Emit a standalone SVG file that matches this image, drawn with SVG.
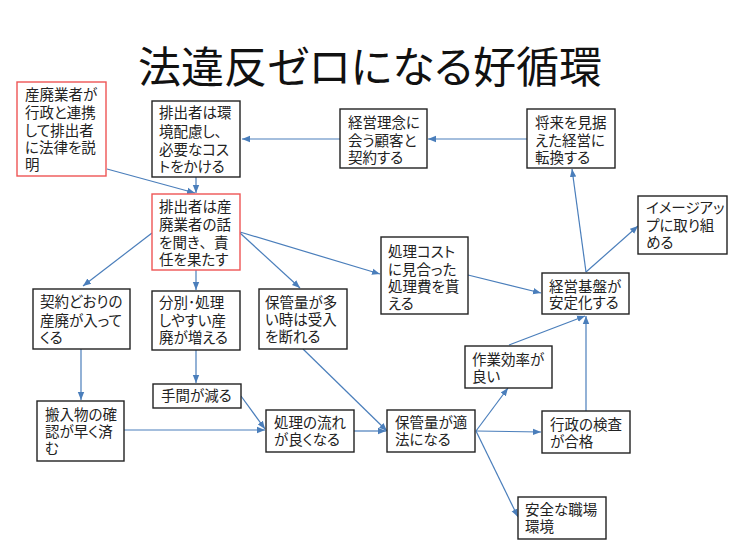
<svg xmlns="http://www.w3.org/2000/svg" width="740" height="555" viewBox="0 0 740 555">
<style>
.n rect{fill:#fff;stroke:#222;stroke-width:1.4}
.n.r rect{stroke:#EE5555}
text{font-family:"Liberation Sans","Noto Sans CJK JP",sans-serif;font-size:14.5px;fill:#222;font-feature-settings:"palt"}
.f{font-feature-settings:normal}
.t{font-size:43px;fill:#111}
.c line{stroke:#4A7EBB;stroke-width:1.2;marker-end:url(#a)}
</style>
<defs>
<marker id="a" viewBox="0 0 8 8" refX="8" refY="4" markerWidth="8" markerHeight="8" markerUnits="userSpaceOnUse" orient="auto">
<path d="M0,0.8 L8,4 L0,7.2 Z" fill="#4A7EBB"/>
</marker>
</defs>
<rect width="740" height="555" fill="#fff"/>
<text class="t" x="370" y="83" text-anchor="middle">法違反ゼロになる好循環</text>
<g class="c">
<line x1="107" y1="169" x2="195" y2="193"/>
<line x1="196" y1="177" x2="196" y2="193"/>
<line x1="340" y1="139" x2="242" y2="139"/>
<line x1="527" y1="139" x2="428" y2="139"/>
<line x1="586" y1="272" x2="572" y2="169"/>
<line x1="586" y1="272" x2="638" y2="226"/>
<line x1="152" y1="233" x2="83" y2="286"/>
<line x1="196" y1="270" x2="196" y2="290"/>
<line x1="240" y1="233" x2="300" y2="288"/>
<line x1="240" y1="232" x2="380" y2="274"/>
<line x1="468" y1="275" x2="541" y2="293"/>
<line x1="81" y1="349" x2="81" y2="400"/>
<line x1="196" y1="350" x2="196" y2="383"/>
<line x1="124" y1="430" x2="265" y2="430"/>
<line x1="241" y1="396" x2="265" y2="429"/>
<line x1="303" y1="349" x2="387" y2="431"/>
<line x1="354" y1="431" x2="386" y2="431"/>
<line x1="476" y1="431" x2="508" y2="388"/>
<line x1="476" y1="431" x2="541" y2="432"/>
<line x1="476" y1="431" x2="518" y2="517"/>
<line x1="509" y1="345" x2="585" y2="316"/>
<line x1="586" y1="411" x2="586" y2="316"/>
</g>
<g id="n1" class="n r"><rect x="17" y="82" width="89" height="94"/><text><tspan x="25" y="100">産廃業者が</tspan><tspan x="25" y="118">行政と連携</tspan><tspan x="25" y="136">して排出者</tspan><tspan x="25" y="153">に法律を説</tspan><tspan x="25" y="170">明</tspan></text></g>
<g id="n2" class="n"><rect x="152" y="101" width="88" height="76"/><text><tspan x="159" y="118">排出者は環</tspan><tspan x="159" y="137">境配慮し、</tspan><tspan x="159" y="155">必要なコス</tspan><tspan x="159" y="172">トをかける</tspan></text></g>
<g id="n3" class="n r"><rect x="152" y="194" width="88" height="76"/><text><tspan x="159" y="212">排出者は産</tspan><tspan x="159" y="230">廃業者の話</tspan><tspan x="159" y="248">を聞き<tspan class="f">、</tspan>責</tspan><tspan x="159" y="265">任を果たす</tspan></text></g>
<g id="n4" class="n"><rect x="340" y="109" width="87" height="59"/><text><tspan x="348" y="128">経営理念に</tspan><tspan x="348" y="146">会う顧客と</tspan><tspan x="348" y="163">契約する</tspan></text></g>
<g id="n5" class="n"><rect x="527" y="109" width="88" height="59"/><text><tspan x="535" y="128">将来を見据</tspan><tspan x="535" y="146">えた経営に</tspan><tspan x="535" y="163">転換する</tspan></text></g>
<g id="n6" class="n"><rect x="638" y="196" width="89" height="58"/><text><tspan x="646" y="213">イメージアッ</tspan><tspan x="646" y="231">プに取り組</tspan><tspan x="646" y="248">める</tspan></text></g>
<g id="n7" class="n"><rect x="33" y="289" width="97" height="60"/><text><tspan x="40" y="307">契約どおりの</tspan><tspan x="40" y="326">産廃が入って</tspan><tspan x="40" y="343">くる</tspan></text></g>
<g id="n8" class="n"><rect x="152" y="291" width="88" height="59"/><text><tspan x="159" y="308">分別･処理</tspan><tspan x="159" y="326">しやすい産</tspan><tspan x="159" y="343">廃が増える</tspan></text></g>
<g id="n9" class="n"><rect x="153" y="384" width="88" height="24"/><text x="161" y="401">手間が減る</text></g>
<g id="n10" class="n"><rect x="37" y="401" width="87" height="60"/><text><tspan x="45" y="420">搬入物の確</tspan><tspan x="45" y="437">認が早く済</tspan><tspan x="45" y="454">む</tspan></text></g>
<g id="n11" class="n"><rect x="259" y="289" width="88" height="60"/><text><tspan x="265" y="308">保管量が多</tspan><tspan x="265" y="325">い時は受入</tspan><tspan x="265" y="342">を断れる</tspan></text></g>
<g id="n12" class="n"><rect x="381" y="237" width="87" height="77"/><text><tspan x="388" y="257">処理コスト</tspan><tspan x="388" y="275">に見合った</tspan><tspan x="388" y="292">処理費を貰</tspan><tspan x="388" y="309">える</tspan></text></g>
<g id="n13" class="n"><rect x="266" y="410" width="88" height="42"/><text><tspan x="274" y="428">処理の流れ</tspan><tspan x="274" y="445">が良くなる</tspan></text></g>
<g id="n14" class="n"><rect x="387" y="410" width="88" height="42"/><text><tspan x="395" y="428">保管量が適</tspan><tspan x="395" y="445">法になる</tspan></text></g>
<g id="n15" class="n"><rect x="542" y="273" width="87" height="41"/><text><tspan x="549" y="292">経営基盤が</tspan><tspan x="549" y="308">安定化する</tspan></text></g>
<g id="n16" class="n"><rect x="465" y="346" width="87" height="42"/><text><tspan x="472" y="365">作業効率が</tspan><tspan x="472" y="382">良い</tspan></text></g>
<g id="n17" class="n"><rect x="542" y="411" width="88" height="42"/><text><tspan x="550" y="430">行政の検査</tspan><tspan x="550" y="447">が合格</tspan></text></g>
<g id="n18" class="n"><rect x="518" y="497" width="88" height="42"/><text><tspan x="525" y="515">安全な職場</tspan><tspan x="525" y="532">環境</tspan></text></g>
</svg>
